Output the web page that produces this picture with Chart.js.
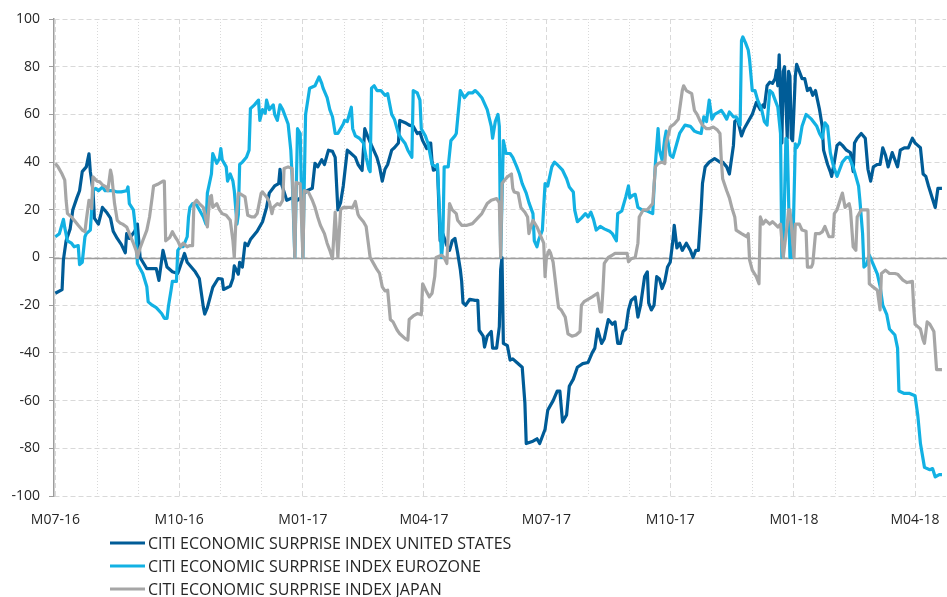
<!DOCTYPE html>
<html>
<head>
<meta charset="utf-8">
<script src="https://cdn.jsdelivr.net/npm/chart.js@4.4.1/dist/chart.umd.min.js"></script>
<style>
html,body{margin:0;padding:0;background:#ffffff;}
#wrap{width:947px;height:597px;position:relative;}
</style>
</head>
<body>
<div id="wrap"><canvas id="c" width="947" height="597"></canvas></div>
<script>
// ---- data (x = days since 1 Jul 2016) ----
const seriesLabels = [
  'CITI ECONOMIC SURPRISE INDEX UNITED STATES',
  'CITI ECONOMIC SURPRISE INDEX EUROZONE',
  'CITI ECONOMIC SURPRISE INDEX JAPAN'
];
const seriesColors = ['#005c97', '#12b1e3', '#a6a6a6'];

const usDays = [0,5,6,8,11,13,16,18,20,23,25,26,28,29,32,34,35,38,41,43,46,49,52,53,55,59,61,63,68,75,77,80,83,87,91,96,98,104,107,110,111,113,117,121,124,125,130,132,133,136,137,139,141,143,145,150,154,157,159,163,166,167,168,172,176,180,183,187,191,193,195,198,200,203,206,208,210,212,214,217,219,223,225,228,230,232,235,239,241,243,245,247,250,252,255,256,260,263,266,269,271,273,276,278,279,280,281,283,284,286,288,291,293,295,297,299,301,302,303,305,308,312,314,315,318,319,321,324,325,328,330,331,332,333,336,338,340,343,347,349,350,355,358,360,364,366,370,373,375,377,380,382,385,388,392,396,399,401,403,406,408,411,414,416,418,420,422,424,426,428,431,433,435,438,440,441,443,445,447,449,451,453,455,457,459,460,462,464,466,469,472,474,476,478,480,481,483,486,490,494,496,499,501,504,505,507,510,512,515,518,521,524,526,527,529,531,533,535,536,537,538,540,541,542,544,545,546,547,548,550,551,553,555,557,559,561,563,565,568,570,571,574,576,577,579,581,583,585,588,591,593,594,596,599,602,604,606,608,611,613,615,617,619,622,624,626,628,631,634,637,639,641,643,645,647,649,652,654,656,659];
const usValues = [-15,-13.5,-1,7,12,20,25,28,36,38,43.5,36,28,16.5,14,18.5,21,19,16.5,11,8,5.5,2,10,8,11,14,0,-4.7,-4.7,-9.6,3,-4,-6,-6.7,1.7,-2,-6,-8.8,-20.8,-23.7,-21,-12.5,-8.8,-9,-13.4,-12,-8.8,-3.5,-7,-2,-4,6,5,7.5,11,15,21,27,30,31,37,31,24,25,24,25.5,28,29,39.5,38,41,39,45,44.5,42,20,23,30,45,44,42,39,36.5,54,51,47,42,38,32,37,39,45,46,48,57.5,56.5,55.5,55,52,52.5,49,45.7,48,48,40,36.6,37,38,7,10,5,3,7,8,2,-5,-10,-19,-20,-17.5,-18,-18,-30.5,-33,-37.6,-33,-31,-38,-38,-29,-5,0,-36,-37,-43,-42.5,-44,-46,-61,-78,-77,-76,-78,-72,-64,-60,-56,-56,-69,-66,-54,-51,-46,-44.5,-44,-40,-38,-30,-36,-34,-26,-28,-27,-36,-36,-31,-30,-22,-18,-16.5,-25,-20,-8,-6,-19,-22,-20,-8,-9,-13,-10,-4,-2,7,13.5,4,6,3,6,3,0,3,3,20,31,38,40,41.5,40,40,38,35,47,57,58,51,54,57,60,65,62,64,63,72,73.5,73,75,78.5,72,85,48,78,80,50,78,76,50,49,76,81,78,75,75,70,71,68,70,62,55,45,39,36,34,40,47,48,47,45,44,36,48,50,52,50,37,32,38,39,39,46,43,38,44,41,38,45,46,46,50,48,47,46,35,34,30,24.5,21,29,29];

const ezDays = [0,3,6,7,9,12,14,17,18,20,22,23,26,27,28,30,32,35,37,39,43,46,49,53,54,55,58,59,60,61,63,65,68,69,72,75,79,81,83,84,86,87,90,91,93,95,98,99,100,102,105,107,110,112,113,116,117,120,122,123,124,127,128,130,132,133,135,136,137,139,142,144,145,148,151,152,154,156,157,159,162,163,165,167,169,171,173,175,176,178,180,182,184,186,189,191,193,196,198,199,202,204,206,208,210,211,214,215,217,220,221,223,226,229,231,233,234,235,237,239,242,245,247,250,252,255,257,260,262,265,266,269,271,272,275,277,279,280,283,284,287,288,289,292,294,297,298,301,303,304,307,310,312,314,317,319,321,324,325,327,329,330,331,333,335,338,340,343,345,347,350,352,355,356,358,359,362,364,366,369,371,373,377,380,382,385,386,388,391,394,396,398,400,402,405,408,412,414,417,418,421,424,426,427,429,431,433,436,440,444,446,448,449,451,453,454,457,459,462,464,468,472,475,477,480,482,484,486,488,490,493,495,497,499,501,504,506,509,510,511,513,515,516,518,520,522,525,527,529,531,533,535,537,538,539,540,541,543,544,546,548,550,551,553,555,558,562,566,568,570,572,574,576,578,581,585,588,590,593,595,597,598,600,601,603,605,608,611,613,615,618,620,624,626,627,631,635,639,641,643,646,650,652,654,657,659];
const ezValues = [8.7,10,16,12.5,7,6,4.5,5,-3,-2,8.7,10,11.5,20,28,29,28,29.5,28,28,28,27.5,27.5,28,29.6,22.6,20,15,8.7,-2.5,-4.6,-6.7,-12.3,-18.6,-20,-21,-23.5,-25.5,-25.5,-20.7,-13.7,-10,-10,3,4.5,4.5,8.7,17,21,22.6,22,20,17,14,27,35,43.6,39.5,41.5,45.7,41,38,32,35,32,28,14,18,39,40,42,45,62.4,64,66,57.5,62,60.5,66,62,64,60,57.5,64,62,59,56,45,34,0,54,52,0,60,71,71.5,72,75.7,73,71,67,62,59,52,52,53,56,57.5,57,63,54,51,50,48,42,37,36,71,72,70,70,68,68.7,60,58,52,50,47.8,45,42,70,69,66,54,51,47.8,42,39,38,39,0,6,38,38,49,51,52,70,68,67,69,69,70,69,67,64.5,62,55,50,57,60,55,0,49,43.6,43.6,42,38,35,31,27,23,18.4,7,4.5,7,11.5,31,30,38,40,39,36.6,33,29.6,27.5,20,15,16.5,18.4,17,19,16,11.5,13,12,11,10,7,18.4,19.5,25.4,30,25,26,26.5,21,20,19.5,18.4,39.4,54,45,40.8,50,53,43,42,48,52,55.5,55,53,52.5,52,59,57,66,58,60,61,61.7,60,58,61,59,59,55.5,91,92.5,90,87,83,70,70,66,62,57,55.5,70,69,66,63,57.5,52,0,0,50,49,0,0,47.6,46,48,55,60,58,55,52,50,56.5,55,44,39,34,40,42,42,38,34,30,24,10,-4,-3,1,-3,-7,-12,-20,-24,-30,-32.5,-38,-56,-57,-57,-58,-66,-78,-88,-89,-88.5,-92,-91,-91];

const jpDays = [0,2,5,7,8,9,12,14,17,20,22,23,25,27,28,31,33,35,38,39,41,42,43,44,46,48,50,53,55,58,60,61,63,65,68,70,72,73,76,80,81,82,85,87,89,91,93,95,98,100,102,103,105,107,110,111,113,114,115,116,117,120,122,124,127,130,132,133,134,136,138,141,143,146,148,150,153,154,157,159,161,162,165,167,169,170,173,176,177,178,179,181,182,184,185,188,191,193,195,197,200,202,204,206,208,210,212,214,217,219,221,223,225,226,229,231,234,237,239,241,243,245,247,249,251,254,256,260,262,263,266,269,272,273,276,278,280,282,283,287,289,291,293,295,298,299,302,306,310,313,317,319,321,324,328,330,331,332,334,336,339,340,341,344,346,349,351,352,354,355,358,361,363,364,365,367,368,370,373,374,376,379,381,384,387,390,391,393,399,403,405,406,407,408,411,414,416,419,425,426,428,431,433,434,437,440,444,446,448,451,453,454,457,460,463,466,467,469,473,475,477,479,481,484,486,489,492,494,495,496,499,501,503,505,506,510,514,515,516,518,521,523,524,526,528,531,533,535,537,539,541,544,545,546,547,549,550,553,555,558,559,562,563,565,568,570,572,575,578,579,581,584,585,587,590,591,593,595,596,599,602,604,605,607,611,613,614,617,620,624,626,630,633,637,638,639,641,643,645,646,648,650,653,655,659];
const jpValues = [39.4,38,35,32.4,24,18.4,17,15.6,13.5,11.5,10.8,15.6,24,20.5,33.8,32,31.7,30.5,29.5,28,36.6,34,28,22.6,15.6,14.5,14,12.8,10,6,3,0,4,7,11.5,17,25.4,30,30.7,32,32,7,8.4,10.8,8.7,7,4.5,6,4.5,5,5,22.6,24,22.6,21,18.4,12.8,20,25.4,26,21,22.6,20,18.4,17.7,15.6,7,0,13,27,26.5,25.4,17.7,17,17,18.4,27,27.5,25.4,23.5,18.4,21,22.6,22,24,37.3,38,37.3,20,0,31.5,31,31,0,28,27.5,24,21,17,13.5,10,6,3,-0.5,19,0,20,21,21,21,21,23.5,18,17,15,13,0,-3,-5,-6.7,-12.3,-14,-13.7,-26,-27,-30.4,-32,-34,-34.6,-26,-24.5,-23.5,-24,-11,-14.5,-16.5,-15,-8,0,1,0,-2.5,22.6,20,18.4,15.6,13.5,13.5,14.2,16,18.4,20.5,22.6,24,24.7,23,0,31,32.5,33.8,35,29,27.5,27,21,19,17,10,14,15.6,12.8,8.7,6,-8,0,3,2,-2,-16.5,-21,-22,-25,-32,-33,-32.5,-31,-20,-18.5,-16.5,-15,-22.8,-22.8,-13.7,-2.5,0,1,1.7,1.7,1.7,-1.8,-0.5,0,6,17,20,20,22.6,38,39.4,40,39.4,47.8,54.7,56,58,70,72,70,68.7,61.7,60,57.5,55.5,54,54,54.7,53.5,52,40.8,33,28,25,20.5,17,11.5,10,8.7,10,-1,-5.3,-8,-11,17,14,15.6,14,15,14,12.8,14,0,14,20,20,14,0,14,14,11.5,11,-4,-4,-2.5,10,10,10.7,13,8.7,8.7,18.4,20,25.4,27,21,22.6,20,4.5,3,17,20,20,20,-11,-12,-13.7,-22,-6.7,-5.3,-6.7,-6.7,-7,-9.5,-10.5,-10,-21,-28,-29,-30,-34.6,-36,-27,-28,-31,-47,-47];

// ---- axis ticks ----
const monthStartDays = [0,31,62,92,123,153,184,215,243,274,304,335,365,396,427,457,488,518,549,580,608,639];
const quarterDays = [0,92,184,274,365,457,549,639];
const quarterLabels = ['M07-16','M10-16','M01-17','M04-17','M07-17','M10-17','M01-18','M04-18'];
const xRange = [-1, 662];
const yRange = [-100, 100];
const yStep = 20;

const toPoints = (days, vals) => days.map((d, i) => ({x: d, y: vals[i]}));
const seriesData = [toPoints(usDays, usValues), toPoints(ezDays, ezValues), toPoints(jpDays, jpValues)];

const FONT = '"Open Sans", "DejaVu Sans", sans-serif';
Chart.defaults.font.family = FONT;

const zeroLine = {
  id: 'zeroLine',
  beforeDatasetsDraw(chart) {
    const {ctx, chartArea, scales} = chart;
    const y = Math.round(scales.y.getPixelForValue(0)) + 0.5;
    ctx.save();
    ctx.strokeStyle = '#9d9d9d';
    ctx.lineWidth = 1.5;
    ctx.beginPath();
    ctx.moveTo(chartArea.left, y);
    ctx.lineTo(chartArea.right + 1, y);
    ctx.stroke();
    ctx.restore();
  }
};

const stackedLegend = {
  id: 'stackedLegend',
  afterDraw(chart) {
    const {ctx, chartArea} = chart;
    ctx.save();
    ctx.font = '16px ' + FONT;
    ctx.textBaseline = 'middle';
    ctx.textAlign = 'left';
    chart.data.datasets.forEach((ds, i) => {
      const y = chartArea.bottom + 47 + i * 23;
      ctx.strokeStyle = ds.borderColor;
      ctx.lineWidth = 3;
      ctx.beginPath();
      ctx.moveTo(110, y);
      ctx.lineTo(145, y);
      ctx.stroke();
      ctx.fillStyle = '#262626';
      ctx.fillText(ds.label, 148, y + 1);
    });
    ctx.restore();
  }
};

const noSidePadding = (s, h) => { s.height = h; s.paddingLeft = 0; s.paddingRight = 0; };

new Chart(document.getElementById('c'), {
  type: 'line',
  data: {
    datasets: seriesData.map((pts, i) => ({
      label: seriesLabels[i],
      data: pts,
      borderColor: seriesColors[i],
      backgroundColor: seriesColors[i],
      borderWidth: 3.2,
      pointRadius: 0,
      tension: 0,
      fill: false,
      borderJoinStyle: 'round',
      order: 3 - i
    }))
  },
  options: {
    responsive: false,
    animation: false,
    devicePixelRatio: 1,
    events: [],
    layout: {padding: {left: 0, right: 1, top: 19, bottom: 71}},
    plugins: {legend: {display: false}, tooltip: {enabled: false}},
    scales: {
      x: {
        type: 'linear',
        position: 'bottom',
        min: xRange[0], max: xRange[1],
        afterBuildTicks: (s) => { s.ticks = quarterDays.map(v => ({value: v})); },
        afterFit: (s) => noSidePadding(s, 30),
        ticks: {
          autoSkip: false, maxRotation: 0, padding: 16,
          color: '#262626', font: {size: 14},
          callback: (v, i) => quarterLabels[i]
        },
        grid: {color: '#d9d9d9', lineWidth: 1, drawTicks: false},
        border: {display: false, dash: [5, 3]}
      },
      xm: {
        type: 'linear',
        position: 'bottom',
        min: xRange[0], max: xRange[1],
        afterBuildTicks: (s) => { s.ticks = monthStartDays.filter(d => !quarterDays.includes(d)).map(v => ({value: v})); },
        afterFit: (s) => noSidePadding(s, 0),
        ticks: {display: false},
        grid: {color: '#d9d9d9', lineWidth: 1, drawTicks: false},
        border: {display: false, dash: [1, 2]}
      },
      y: {
        min: yRange[0], max: yRange[1],
        afterFit: (s) => { s.width = 54; s.paddingTop = 0; s.paddingBottom = 0; },
        ticks: {stepSize: yStep, padding: 9, color: '#262626', font: {size: 14}},
        grid: {color: '#d9d9d9', lineWidth: 1, tickColor: '#9d9d9d', tickLength: 5},
        border: {display: true, color: '#9d9d9d', width: 1.5, dash: [5, 3]}
      }
    }
  },
  plugins: [zeroLine, stackedLegend]
});
</script>
</body>
</html>
